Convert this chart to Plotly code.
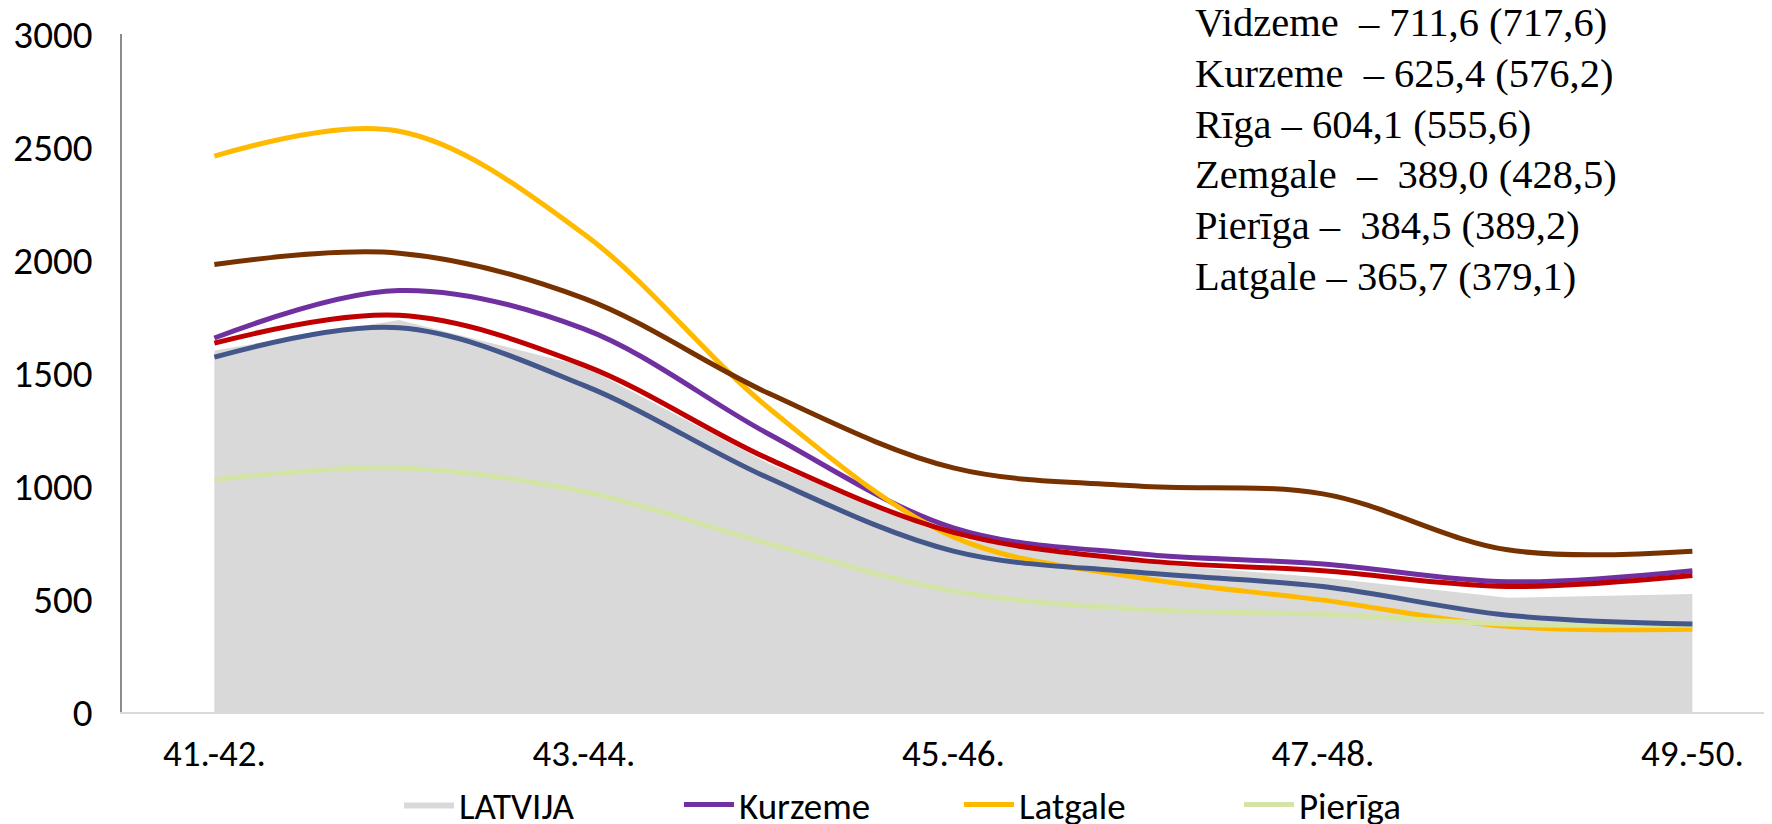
import plotly.graph_objects as go

categories = ["41.-42.", "42.-43.", "43.-44.", "44.-45.", "45.-46.",
              "46.-47.", "47.-48.", "48.-49.", "49.-50."]
tick_labels = ["41.-42.", "43.-44.", "45.-46.", "47.-48.", "49.-50."]

latvija = [1600, 1735, 1530, 1100, 770, 660, 595, 505, 522]
kurzeme = [1655, 1865, 1695, 1230, 815, 700, 655, 576.2, 625.4]
latgale = [2460, 2570, 2115, 1345, 775, 595, 495, 379.1, 365.7]
pieriga = [1028, 1080, 975, 745, 535, 455, 432, 389.2, 384.5]
riga = [1632, 1755, 1535, 1120, 795, 672, 625, 555.6, 604.1]
vidzeme = [1980, 2030, 1830, 1410, 1080, 1000, 965, 717.6, 711.6]
zemgale = [1570, 1700, 1445, 1035, 712, 618, 555, 428.5, 389.0]

note_lines = [
    "Vidzeme\u00a0 – 711,6 (717,6)",
    "Kurzeme\u00a0 – 625,4 (576,2)",
    "Rīga – 604,1 (555,6)",
    "Zemgale\u00a0 –\u00a0 389,0 (428,5)",
    "Pierīga –\u00a0 384,5 (389,2)",
    "Latgale – 365,7 (379,1)",
]

W, H = 1772, 824
L, T, B = 114, 26, 120
plot_h = H - T - B
plot_w = W - L
base_px = H - B

sans = "Calibri, Carlito, Lato, sans-serif"
fs = 37

fig = go.Figure()
fig.add_trace(go.Scatter(
    x=categories, y=latvija, name="LATVIJA", mode="lines",
    fill="tozeroy", fillcolor="#D9D9D9", line=dict(width=0, color="#D9D9D9"),
    showlegend=True))

line_series = [
    ("Kurzeme", kurzeme, "#7030A0", True),
    ("Latgale", latgale, "#FFBA00", True),
    ("Pierīga", pieriga, "#D2E5A6", True),
    ("Rīga", riga, "#C00000", False),
    ("Vidzeme", vidzeme, "#783200", False),
    ("Zemgale", zemgale, "#44578B", False),
]
for name, vals, col, show in line_series:
    fig.add_trace(go.Scatter(
        x=categories, y=vals, name=name, mode="lines",
        line=dict(color=col, width=5, shape="spline", smoothing=1.0),
        showlegend=show))

# right end of the category axis is cut off by the image edge
x_max = -0.5 + plot_w / 184.75

fig.update_layout(
    width=W, height=H,
    margin=dict(l=L, r=0, t=T, b=B, autoexpand=False),
    paper_bgcolor="white", plot_bgcolor="white",
    font=dict(family=sans, size=fs, color="black"),
    xaxis=dict(
        type="category", categoryorder="array", categoryarray=categories,
        range=[-0.5, x_max], tickmode="array", tickvals=tick_labels,
        ticktext=tick_labels, showgrid=False, zeroline=False,
        showline=True, linecolor="#D9D9D9", linewidth=2, ticks="",
        ticklabelstandoff=8, tickfont=dict(family=sans, size=fs)),
    yaxis=dict(
        range=[0, 3000], tickvals=[0, 500, 1000, 1500, 2000, 2500, 3000],
        showgrid=False, zeroline=False, showline=True, linecolor="#8C8C8C",
        linewidth=1.5, ticks="", ticklabelstandoff=20,
        tickfont=dict(family=sans, size=39)),
    legend=dict(
        orientation="h", x=(391 - L) / plot_w, xanchor="left",
        y=(base_px - 797) / plot_h, yanchor="middle",
        font=dict(family=sans, size=fs), entrywidth=215, itemwidth=50,
        entrywidthmode="pixels", traceorder="normal",
        bgcolor="rgba(0,0,0,0)"),
)

for i, line in enumerate(note_lines):
    ypx = 15 + i * 50.6
    fig.add_annotation(
        xref="paper", yref="paper", x=(1185 - L) / plot_w,
        y=(base_px - ypx) / plot_h, xanchor="left", yanchor="middle",
        text=line, showarrow=False,
        font=dict(family="Liberation Serif, 'Times New Roman', serif",
                  size=40.5, color="black"))

fig.write_html("out.html")
